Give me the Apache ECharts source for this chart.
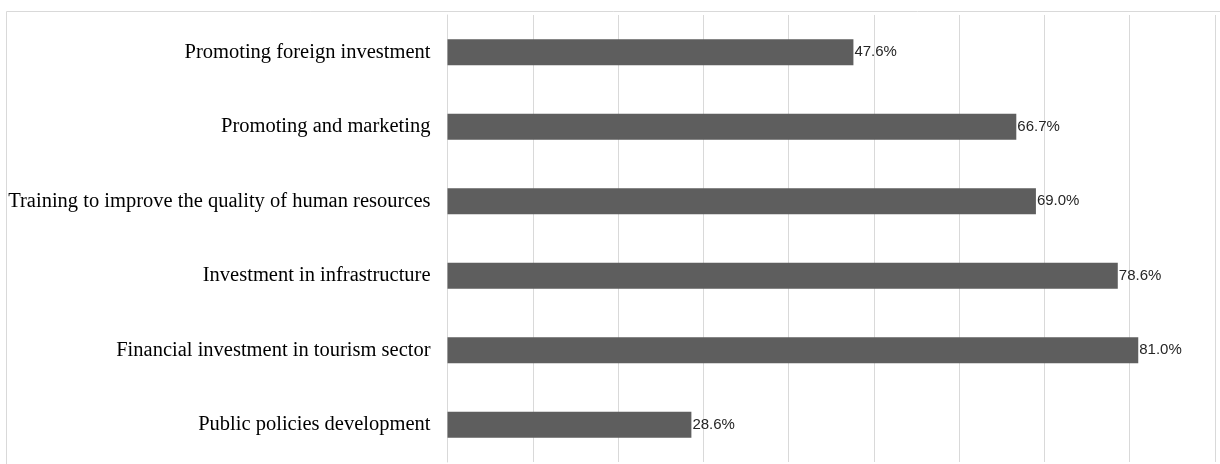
<!DOCTYPE html>
<html>
<head>
<meta charset="utf-8">
<script src="https://cdn.jsdelivr.net/npm/echarts@6/dist/echarts.min.js"></script>
<style>html,body{margin:0;padding:0;background:#fff}#c{width:1220px;height:464px}</style>
</head>
<body>
<div id="c"></div>
<script>
const categories = ["Public policies development","Financial investment in tourism sector","Investment in infrastructure","Training to improve the quality of human resources","Promoting and marketing","Promoting foreign investment"];
const values = [28.6, 81.0, 78.6, 69.0, 66.7, 47.6];
const chart = echarts.init(document.getElementById('c'), null, {renderer:'canvas'});
chart.setOption({
  animation:false,
  backgroundColor:'#fff',
  graphic:[{type:'rect',shape:{x:6.5,y:11.5,width:1230,height:470},style:{fill:'none',stroke:'#d9d9d9',lineWidth:1},silent:true,z:-1}],
  grid:{left:447.5,right:5,top:15,bottom:2,containLabel:false},
  xAxis:{type:'value',min:0,max:90,interval:10,axisLabel:{show:false},axisLine:{show:false},axisTick:{show:false},
    splitLine:{show:true,lineStyle:{color:'#d9d9d9',width:1}}},
  yAxis:{type:'category',data:categories,axisTick:{show:false},axisLine:{show:true,lineStyle:{color:'#d9d9d9'}},
    axisLabel:{fontFamily:'Liberation Serif',fontSize:20.5,color:'#000',margin:17}},
  series:[{type:'bar',data:values,barWidth:'35%',itemStyle:{color:'#5e5e5e'},
    label:{show:true,position:'right',distance:1,formatter:p=>p.value.toFixed(1)+'%',fontFamily:'Liberation Sans',fontSize:15,color:'#262626'}}]
});
</script>
</body>
</html>
